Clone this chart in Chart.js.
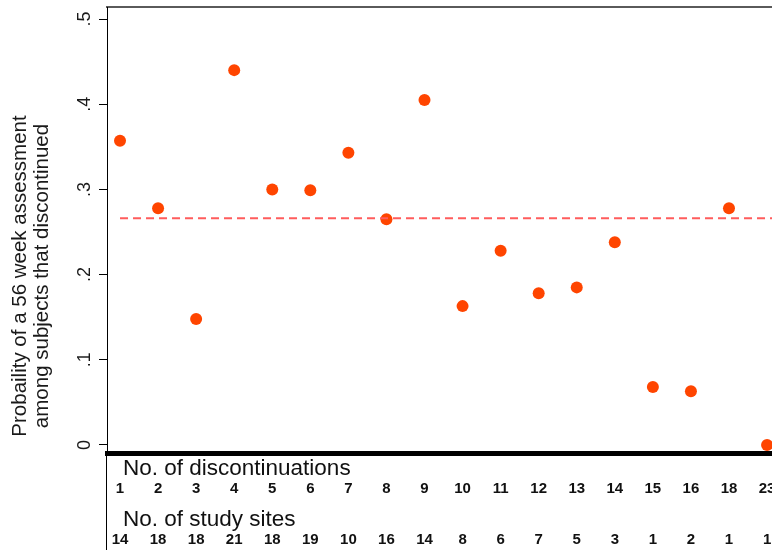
<!DOCTYPE html>
<html>
<head>
<meta charset="utf-8">
<script src="https://cdn.jsdelivr.net/npm/chart.js@4/dist/chart.umd.min.js"></script>
<style>
  html, body { margin: 0; padding: 0; background: #fff; }
  #wrap { width: 772px; height: 550px; }
</style>
</head>
<body>
<div id="wrap"><canvas id="myChart" width="772" height="550"></canvas></div>
<script>
const discontinuations = ['1', '2', '3', '4', '5', '6', '7', '8', '9', '10', '11', '12', '13', '14', '15', '16', '18', '23'];
const studySites = ['14', '18', '18', '21', '18', '19', '10', '16', '14', '8', '6', '7', '5', '3', '1', '2', '1', '1'];
const probability = [0.357, 0.278, 0.148, 0.440, 0.300, 0.299, 0.343, 0.265, 0.405, 0.163, 0.228, 0.178, 0.185, 0.238, 0.068, 0.063, 0.278, 0.0];
const overallMean = 0.266;
const yTicks = [0, 0.1, 0.2, 0.3, 0.4, 0.5];
const yTickLabels = ['0', '.1', '.2', '.3', '.4', '.5'];
const yTitle = ['Probaility of a 56 week assessment', 'among subjects that discontinued'];
const rowTitles = ['No. of discontinuations', 'No. of study sites'];

const xMin = -0.342;
const xMax = 17.13;
const FONT = '"Liberation Sans", Arial, sans-serif';

// texts that stata puts outside the normal axis slots
const extraText = {
  id: 'extraText',
  afterDraw(chart) {
    const c = chart.ctx;
    const y = chart.scales.y;
    c.save();
    // y axis line runs on down past the thick bar
    c.strokeStyle = '#000';
    c.lineWidth = 1;
    c.beginPath();
    c.moveTo(y.right - 0.5, chart.chartArea.bottom);
    c.lineTo(y.right - 0.5, 550);
    c.stroke();

    c.fillStyle = '#1a1a1a';
    c.font = '18px ' + FONT;
    c.textAlign = 'center';
    c.textBaseline = 'alphabetic';
    yTicks.forEach((v, i) => {
      c.save();
      c.translate(90, y.getPixelForValue(v));
      c.rotate(-Math.PI / 2);
      c.fillText(yTickLabels[i], 0, 0);
      c.restore();
    });

    c.font = '20.5px ' + FONT;
    yTitle.forEach((t, i) => {
      c.save();
      c.translate(26 + i * 22, 276);
      c.rotate(-Math.PI / 2);
      c.fillText(t, 0, 0);
      c.restore();
    });

    c.fillStyle = '#111';
    c.font = '22.5px ' + FONT;
    c.textAlign = 'left';
    c.fillText(rowTitles[0], 123, 475);
    c.fillText(rowTitles[1], 123, 526);
    c.restore();
  },
};

const ctx = document.getElementById('myChart').getContext('2d');
const chart = new Chart(ctx, {
  type: 'scatter',
  data: {
    datasets: [
      {
        label: 'mean',
        type: 'line',
        data: [{ x: 0, y: overallMean }, { x: xMax, y: overallMean }],
        borderColor: '#ff5c5c',
        borderWidth: 2,
        borderDash: [8, 5],
        pointRadius: 0,
        fill: false,
      },
      {
        label: 'probability',
        data: probability.map((p, i) => ({ x: i, y: p })),
        backgroundColor: '#ff4500',
        borderWidth: 0,
        pointRadius: 6,
        pointHoverRadius: 6,
      },
    ],
  },
  options: {
    responsive: false,
    animation: false,
    layout: { padding: 0, autoPadding: false },
    plugins: { legend: { display: false }, tooltip: { enabled: false } },
    scales: {
      x: {
        type: 'linear',
        position: 'bottom',
        min: xMin,
        max: xMax,
        afterBuildTicks: (s) => { s.ticks = discontinuations.map((d, i) => ({ value: i })); },
        afterFit: (s) => { s.height = 97; s.paddingLeft = 0; s.paddingRight = 0; },
        grid: { display: false, drawTicks: false },
        border: { display: true, color: '#000', width: 5 },
        ticks: {
          autoSkip: false,
          maxRotation: 0,
          minRotation: 0,
          padding: 23,
          color: '#111',
          font: { family: FONT, size: 15, weight: 'bold', lineHeight: '25.5px' },
          callback: (v, i) => [discontinuations[i], '', studySites[i]],
        },
      },
      top: {
        type: 'linear',
        axis: 'x',
        position: 'top',
        min: xMin,
        max: xMax,
        afterFit: (s) => { s.height = 7; },
        grid: { display: false, drawTicks: false },
        border: { display: true, color: '#5a5a5a', width: 2 },
        ticks: { display: false },
      },
      y: {
        type: 'linear',
        position: 'left',
        min: -0.0094,
        max: 0.5141,
        afterBuildTicks: (s) => { s.ticks = yTicks.map((v) => ({ value: v })); },
        afterFit: (s) => { s.width = 107; },
        grid: { display: true, drawOnChartArea: false, drawTicks: true, tickLength: 8, color: '#000' },
        border: { display: true, color: '#000', width: 1 },
        ticks: { display: false },
      },
    },
  },
  plugins: [extraText],
});
</script>
</body>
</html>
